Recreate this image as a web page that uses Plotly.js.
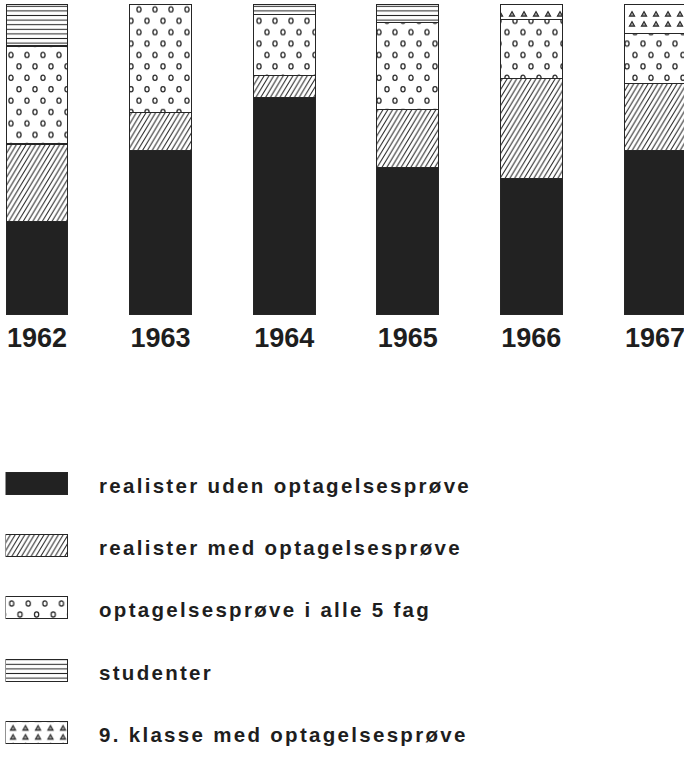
<!DOCTYPE html>
<html><head><meta charset="utf-8">
<script src="https://cdn.plot.ly/plotly-3.0.1.min.js"></script>
<style>
html,body{margin:0;padding:0;background:#fff;}
#chart{width:684px;height:761px;}
.annotation-text{letter-spacing:2.3px;}
</style></head><body><div id="chart"></div>
<script>
// ---- data (percent of each year's intake) ----
const years = ['1962','1963','1964','1965','1966','1967'];
const realisterUden = [30, 53, 70, 47.5, 44, 53];
const realisterMed = [25, 12, 7, 18.5, 32, 21.5];
const alle5Fag = [31.5, 35, 19.5, 28, 19, 16];
const studenter = [13.5, null, 3.5, 6, null, null];
const niendeKlasse = [null, null, null, null, 5, 9.5];
const seriesNames = ['realister uden optagelsesprøve','realister med optagelsesprøve','optagelsesprøve i alle 5 fag','studenter','9. klasse med optagelsesprøve'];
const seriesValues = [realisterUden, realisterMed, alle5Fag, studenter, niendeKlasse];
const legendRows = [0,1,2,3,4];

const INK = '#262626';
const styles = [
  {color:'#222222', pattern:null, uid:'solid'},
  {color:'#ffffff', pattern:{shape:'/', size:3.4, solidity:0.3, fgcolor:INK, bgcolor:'#fff', fillmode:'replace'}, uid:'hatch'},
  {color:'#ffffff', pattern:{shape:'.', size:10, solidity:0.1, fgcolor:INK, bgcolor:'#fff', fillmode:'replace'}, uid:'circ'},
  {color:'#ffffff', pattern:{shape:'-', size:4.6, solidity:0.22, fgcolor:INK, bgcolor:'#fff', fillmode:'replace'}, uid:'stripe'},
  {color:'#ffffff', pattern:{shape:'.', size:12, solidity:0.08, fgcolor:INK, bgcolor:'#fff', fillmode:'replace'}, uid:'tri'}
];

const data = [];
seriesValues.forEach((vals, i) => {
  const m = {color: styles[i].color, line:{color:INK, width:1.1}};
  if (styles[i].pattern) m.pattern = styles[i].pattern;
  data.push({type:'bar', name:seriesNames[i], x:years, y:vals, marker:m, uid:styles[i].uid,
             xaxis:'x', yaxis:'y', cliponaxis:false, hoverinfo:'skip', showlegend:false});
});
// legend swatches drawn as bars on a second subplot
seriesNames.forEach((nm, i) => {
  const m = {color: styles[i].color, line:{color:INK, width:1.1}};
  if (styles[i].pattern) m.pattern = styles[i].pattern;
  data.push({type:'bar', orientation:'h', name:nm, x:[1], y:[legendRows[i]], width:0.354,
             marker:m, uid:styles[i].uid + 'L', xaxis:'x2', yaxis:'y2', cliponaxis:false,
             hoverinfo:'skip', showlegend:false});
});

const FONT = 'Liberation Sans, Arial, Helvetica, sans-serif';
const H = 761, W = 684;
const annotations = seriesNames.map((nm, i) => ({
  text: nm, xref:'paper', yref:'y2', x: 97/W, y: legendRows[i], yshift:-2,
  xanchor:'left', yanchor:'middle', showarrow:false,
  font:{family:FONT, size:20.5, color:'#1e1e1e', weight:'bold'}
}));

const layout = {
  width:W, height:H, margin:{l:0,r:0,t:0,b:0}, paper_bgcolor:'#fff', plot_bgcolor:'rgba(0,0,0,0)',
  barmode:'stack', barnorm:'percent', bargap:0.5, showlegend:false, hovermode:false,
  xaxis:{domain:[0,1], type:'category', range:[-0.299, 5.235], showgrid:false, zeroline:false, showline:false,
         ticks:'', ticklabelstandoff:4, tickfont:{family:FONT, size:27, color:'#1e1e1e', weight:'bold'}, fixedrange:true},
  yaxis:{domain:[(H-315)/H, (H-4)/H], range:[0,100], showgrid:false, zeroline:false, showline:false, showticklabels:false, ticks:'', fixedrange:true},
  xaxis2:{domain:[5.5/W, 68/W], range:[0,100], anchor:'y2', showgrid:false, zeroline:false, showline:false, showticklabels:false, ticks:'', fixedrange:true},
  yaxis2:{domain:[0, (H-455)/H], range:[(761-483.5)/62.2, (455-483.5)/62.2], anchor:'x2', showgrid:false, zeroline:false, showline:false, showticklabels:false, ticks:'', fixedrange:true},
  annotations: annotations
};

const NS = 'http://www.w3.org/2000/svg';
function mod(a, b){ return ((a % b) + b) % b; }
function rebuild(p, tw, th, dx, dy, items){
  while (p.firstChild) p.removeChild(p.firstChild);
  p.setAttribute('width', tw); p.setAttribute('height', th);
  p.setAttribute('patternUnits', 'userSpaceOnUse');
  p.setAttribute('patternTransform', 'translate(' + mod(dx, tw) + ',' + mod(dy, th) + ')');
  const r = document.createElementNS(NS, 'rect');
  r.setAttribute('width', tw); r.setAttribute('height', th); r.setAttribute('fill', '#fff');
  p.appendChild(r);
  items.forEach(it => {
    const el = document.createElementNS(NS, it.tag);
    Object.keys(it.a).forEach(k => el.setAttribute(k, it.a[k]));
    p.appendChild(el);
  });
}
function ring(cx, cy){ return {tag:'ellipse', a:{cx:cx, cy:cy, rx:2.1, ry:2.6, fill:'#fff', stroke:INK, 'stroke-width':1.25}}; }
function tri(cx, cy){ return {tag:'polygon', a:{points:(cx)+','+(cy-2.5)+' '+(cx+2.6)+','+(cy+2.1)+' '+(cx-2.6)+','+(cy+2.1), fill:'#9a9a9a', stroke:INK, 'stroke-width':1.1}}; }
function hatchItems(tw, th){
  const s = {fill:'none', stroke:INK, 'stroke-width':1};
  return [-1,0,1].map(k => ({tag:'path', a:Object.assign({d:'M'+(k*tw - tw)+','+(2*th)+'L'+(k*tw + 2*tw)+','+(-th)}, s)}));
}

function customize(gd){
  const fl = gd._fullLayout;
  const ox1 = fl.xaxis._offset, oy1 = fl.yaxis._offset;
  const ox2 = fl.xaxis2._offset, oy2 = fl.yaxis2._offset;
  document.querySelectorAll('pattern').forEach(p => {
    const id = p.id;
    if (/-circ$/.test(id)) {
      rebuild(p, 16, 22.8, 11 - ox1 - 4, 55 - oy1 - 5.7, [ring(4, 5.7), ring(12, 17.1)]);
    } else if (/-circL$/.test(id)) {
      rebuild(p, 16.6, 22, 11.7 - ox2 - 4, 603.5 - oy2 - 5.5, [ring(4, 5.5), ring(12.3, 16.5)]);
    } else if (/-tri$/.test(id)) {
      rebuild(p, 12, 30, 632 - ox1 - 6, 14 - oy1 - 5, [tri(6, 5), tri(6, 15)]);
    } else if (/-triL$/.test(id)) {
      rebuild(p, 12.5, 18, 13 - ox2 - 6, 728 - oy2 - 4.5, [tri(6, 4.5), tri(6, 13.5)]);
    } else if (/-hatch$/.test(id) || /-hatchL$/.test(id)) {
      rebuild(p, 4.8, 8, 0, 0, hatchItems(4.8, 8));
    }
  });
}

Plotly.newPlot('chart', data, layout, {staticPlot:true, displayModeBar:false}).then(customize);
</script></body></html>
